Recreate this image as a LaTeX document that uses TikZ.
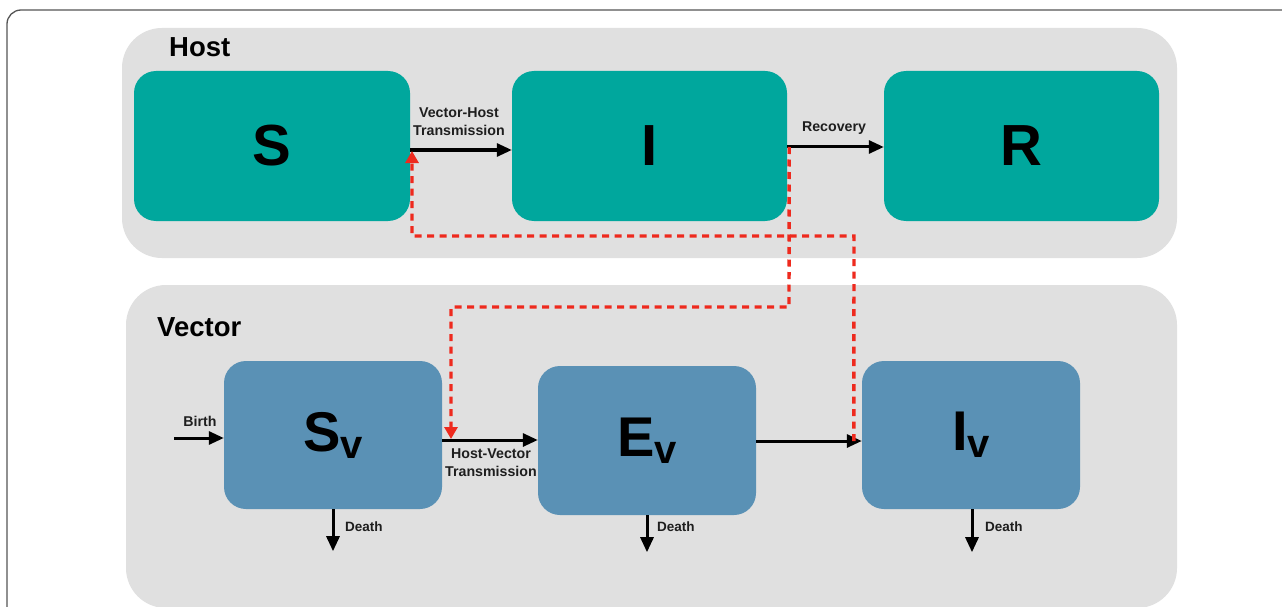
\documentclass[tikz,border=0pt]{standalone}
\usepackage{fontspec}
\setmainfont{Liberation Sans}
\usetikzlibrary{arrows.meta,calc}
\definecolor{hteal}{HTML}{00A79D}
\definecolor{vblue}{HTML}{5A91B5}
\definecolor{panelgray}{HTML}{E0E0E0}
\definecolor{dred}{HTML}{EE2A1E}
\definecolor{txt}{HTML}{1E1E1E}
\definecolor{framegray}{HTML}{555555}
\tikzset{
  hostbox/.style={draw=none,fill=hteal,rounded corners=22pt,minimum width=276pt,minimum height=150pt,inner sep=0pt,text=black,font=\bfseries\fontsize{58}{60}\selectfont},
  vecbox/.style={draw=none,fill=vblue,rounded corners=22pt,minimum width=218pt,minimum height=148pt,inner sep=0pt,text=black},
  panelbox/.style={fill=panelgray,draw=none,rounded corners=40pt},
  flow/.style={line width=3pt,draw=black,-{Triangle[length=15pt,width=13pt]}},
  contact/.style={line width=3.4pt,draw=dred,dash pattern=on 7pt off 5.5pt,-{Triangle[length=12pt,width=13pt]}},
  lbl/.style={font=\bfseries\fontsize{14.2}{18}\selectfont,text=txt,align=center,inner sep=0pt},
  title/.style={font=\bfseries\fontsize{27.5}{29}\selectfont,text=black,inner sep=0pt,anchor=west},
}
\newcommand{\vecname}[1]{{\bfseries\fontsize{56}{58}\selectfont #1}{\bfseries\fontsize{40}{40}\selectfont\raisebox{-7pt}{v}}}
\begin{document}
\begin{tikzpicture}[x=1pt,y=-1pt]
\useasboundingbox (0,0) rectangle (1282,607);
\fill[white] (0,0) rectangle (1282,607);
% outer frame (cropped)
\begin{scope}
\clip (0,0) rectangle (1282,607);
\draw[framegray,line width=1.3pt,rounded corners=14pt] (7,640) -- (7,10) -- (1320,10);
% panels
\fill[panelbox] (122,28) rectangle (1177,258);
\fill[panelbox] (126,285) rectangle (1177,608);
\end{scope}
\node[title] (hosttitle) at (169,47) {Host};
\node[title] (vectitle) at (157,327) {Vector};
% host compartments
\node[hostbox] (S) at (272,146) {S};
\node[hostbox,minimum width=275pt] (I) at (649.5,146) {I};
\node[hostbox,minimum width=275pt] (R) at (1021.5,146) {R};
% vector compartments
\node[vecbox] (Sv) at (333,435) {\vecname{S}};
\node[vecbox,minimum height=149pt] (Ev) at (647,440.5) {\vecname{E}};
\node[vecbox] (Iv) at (971,435) {\vecname{I}};
% host flows
\draw[flow] ([yshift=-4pt]S.east) -- ([yshift=-4pt]I.west);
\node[lbl] (vhlbl) at (459,122) {Vector-Host\\Transmission};
\draw[flow] ([yshift=-1pt]I.east) -- ([yshift=-1pt]R.west);
\node[lbl] (reclbl) at (834,128) {Recovery};
% vector flows
\coordinate (birth) at (174,438);
\draw[flow] (birth) -- (birth -| Sv.west);
\node[lbl] (birthlbl) at (200,421) {Birth};
\draw[flow] ([yshift=-5pt]Sv.east) -- ([yshift=-5pt]Sv.east -| Ev.west);
\node[lbl] (hvlbl) at (491,463) {Host-Vector\\Transmission};
\draw[flow] ([yshift=-6pt]Iv.west -| Ev.east) -- ([yshift=-6pt]Iv.west);
% deaths
\draw[flow] (Sv.south) -- ++(0,42) coordinate (dsv);
\node[lbl,anchor=west,font=\bfseries\fontsize{13.5}{16}\selectfont] (d1) at (345,527) {Death};
\draw[flow] (Ev.south) -- ++(0,37) coordinate (dev);
\node[lbl,anchor=west,font=\bfseries\fontsize{13.5}{16}\selectfont] (d2) at (657,527) {Death};
\draw[flow] ([xshift=1pt]Iv.south) -- ++(0,43) coordinate (div);
\node[lbl,anchor=west,font=\bfseries\fontsize{13.5}{16}\selectfont] (d3) at (985,527) {Death};
% contact (red dashed) paths
\coordinate (c1) at (789,307);
\coordinate (c2) at (451,439);
\draw[contact] ([xshift=2pt,yshift=-1pt]I.east) -- (c1) -| (c2);
\coordinate (c3) at (854,236);
\coordinate (c4) at (412,151);
\draw[contact] ([xshift=-8pt,yshift=-6pt]Iv.west) -- (c3) -| (c4);
\end{tikzpicture}
\end{document}
